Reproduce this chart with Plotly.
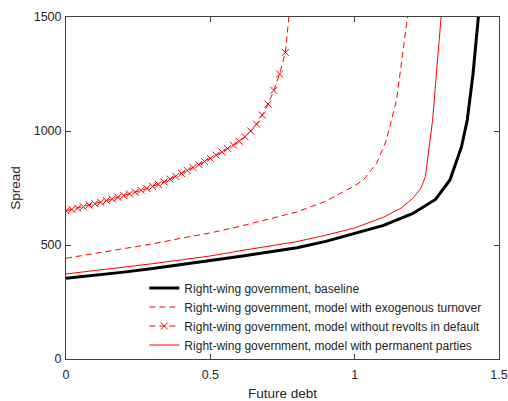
import plotly.graph_objects as go

# ---- data ----
base_x = [0.0, 0.1, 0.2, 0.3, 0.4, 0.5, 0.6, 0.7, 0.8, 0.9, 1.0, 1.1, 1.2, 1.28, 1.33, 1.37, 1.39, 1.41, 1.43]
base_y = [354, 367, 381, 397, 413, 432, 450, 470, 488, 516, 550, 586, 637, 700, 785, 930, 1048, 1250, 1520]

exo_x = [0.0, 0.1, 0.2, 0.3, 0.4, 0.5, 0.6, 0.7, 0.8, 0.9, 1.0, 1.03, 1.076, 1.11, 1.145, 1.168, 1.185]
exo_y = [442, 462, 483, 505, 530, 553, 581, 612, 645, 692, 760, 785, 858, 960, 1136, 1355, 1520]

norev_x = [0.00, 0.02, 0.04, 0.06, 0.08, 0.10, 0.12, 0.14, 0.16, 0.18,
           0.20, 0.22, 0.24, 0.26, 0.28, 0.30, 0.32, 0.34, 0.36, 0.38,
           0.40, 0.42, 0.44, 0.46, 0.48, 0.50, 0.52, 0.54, 0.56, 0.58,
           0.60, 0.62, 0.64, 0.66, 0.68, 0.70, 0.72, 0.74, 0.76, 0.78]
norev_y = [650, 656, 662, 668, 675, 681, 688, 695, 702, 709,
           717, 724, 732, 740, 748, 757, 766, 777, 789, 801,
           814, 827, 840, 853, 866, 880, 894, 908, 923, 938,
           955, 975, 1000, 1030, 1070, 1118, 1178, 1250, 1345, 1600]

perm_x = [0.0, 0.1, 0.2, 0.3, 0.4, 0.5, 0.6, 0.7, 0.8, 0.9, 1.0, 1.1, 1.16, 1.2, 1.23, 1.245, 1.255, 1.27, 1.30]
perm_y = [373, 387, 402, 418, 435, 452, 474, 495, 515, 543, 575, 622, 661, 703, 750, 800, 900, 1048, 1510]

names = [
    "Right-wing government, baseline",
    "Right-wing government, model with exogenous turnover",
    "Right-wing government, model without revolts in default",
    "Right-wing government, model with permanent parties",
]

x_ticks = [0, 0.5, 1, 1.5]
x_ticklabels = ["0", "0.5", "1", "1.5"]
y_ticks = [0, 500, 1000, 1500]
y_ticklabels = ["0", "500", "1000", "1500"]

FONT = "Liberation Sans, Arial, Helvetica, sans-serif"
TXT = "#262626"

fig = go.Figure()
fig.add_trace(go.Scatter(x=base_x, y=base_y, mode="lines", name=names[0],
                         line=dict(color="black", width=3)))
fig.add_trace(go.Scatter(x=exo_x, y=exo_y, mode="lines", name=names[1],
                         line=dict(color="#ff0000", width=1, dash="6px,4px")))
fig.add_trace(go.Scatter(x=norev_x, y=norev_y, mode="lines+markers", name=names[2],
                         line=dict(color="#ff0000", width=1, dash="6px,4px"),
                         marker=dict(symbol="x-thin", size=7, color="#ff0000",
                                     line=dict(color="#ff0000", width=1))))
fig.add_trace(go.Scatter(x=perm_x, y=perm_y, mode="lines", name=names[3],
                         line=dict(color="#ff0000", width=1)))

axis_common = dict(showgrid=False, zeroline=False, showline=True, linecolor="#404040",
                   linewidth=1, mirror="ticks", ticks="inside", ticklen=5,
                   tickcolor="#404040", tickwidth=1, automargin=False,
                   tickfont=dict(family=FONT, size=12.5, color=TXT))

fig.update_xaxes(range=[0, 1.5], tickvals=x_ticks, ticktext=x_ticklabels,
                 ticklabelstandoff=4,
                 title=dict(text="Future debt", font=dict(family=FONT, size=13.5, color=TXT),
                            standoff=8),
                 **axis_common)
fig.update_yaxes(range=[0, 1500], tickvals=y_ticks, ticktext=y_ticklabels,
                 ticklabelstandoff=1,
                 title=dict(text="Spread", font=dict(family=FONT, size=13.5, color=TXT),
                            standoff=9),
                 **axis_common)

fig.update_layout(
    width=508, height=401,
    margin=dict(l=66, r=9, t=17, b=42),
    paper_bgcolor="white", plot_bgcolor="white",
    font=dict(family=FONT, color=TXT),
    showlegend=True,
    legend=dict(x=0.181, y=0.25, xanchor="left", yanchor="top",
                bgcolor="rgba(0,0,0,0)", borderwidth=0,
                font=dict(family=FONT, size=12, color=TXT),
                tracegroupgap=0),
)

fig.write_html("out.html")
